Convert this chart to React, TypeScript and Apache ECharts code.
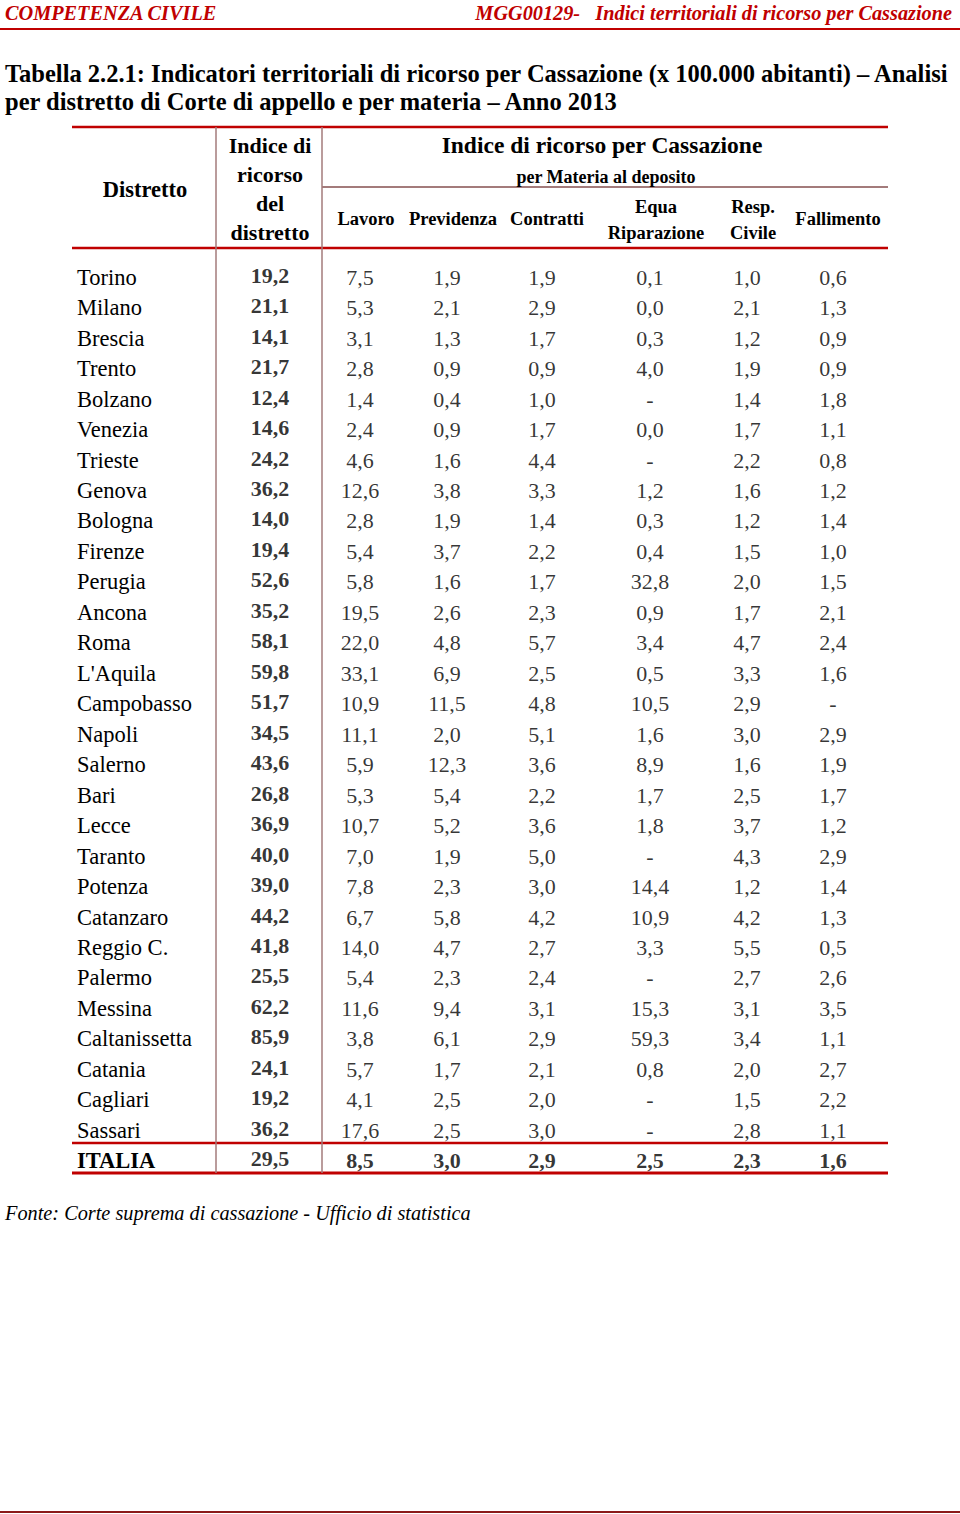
import React, { useEffect, useRef } from "react";
import * as echarts from "echarts";

const districts = ["Torino","Milano","Brescia","Trento","Bolzano","Venezia","Trieste","Genova","Bologna","Firenze","Perugia","Ancona","Roma","L'Aquila","Campobasso","Napoli","Salerno","Bari","Lecce","Taranto","Potenza","Catanzaro","Reggio C.","Palermo","Messina","Caltanissetta","Catania","Cagliari","Sassari","ITALIA"];
const indiceDistretto = [19.2,21.1,14.1,21.7,12.4,14.6,24.2,36.2,14.0,19.4,52.6,35.2,58.1,59.8,51.7,34.5,43.6,26.8,36.9,40.0,39.0,44.2,41.8,25.5,62.2,85.9,24.1,19.2,36.2,29.5];
const lavoro = [7.5,5.3,3.1,2.8,1.4,2.4,4.6,12.6,2.8,5.4,5.8,19.5,22.0,33.1,10.9,11.1,5.9,5.3,10.7,7.0,7.8,6.7,14.0,5.4,11.6,3.8,5.7,4.1,17.6,8.5];
const previdenza = [1.9,2.1,1.3,0.9,0.4,0.9,1.6,3.8,1.9,3.7,1.6,2.6,4.8,6.9,11.5,2.0,12.3,5.4,5.2,1.9,2.3,5.8,4.7,2.3,9.4,6.1,1.7,2.5,2.5,3.0];
const contratti = [1.9,2.9,1.7,0.9,1.0,1.7,4.4,3.3,1.4,2.2,1.7,2.3,5.7,2.5,4.8,5.1,3.6,2.2,3.6,5.0,3.0,4.2,2.7,2.4,3.1,2.9,2.1,2.0,3.0,2.9];
const equaRiparazione = [0.1,0.0,0.3,4.0,null,0.0,null,1.2,0.3,0.4,32.8,0.9,3.4,0.5,10.5,1.6,8.9,1.7,1.8,null,14.4,10.9,3.3,null,15.3,59.3,0.8,null,null,2.5];
const respCivile = [1.0,2.1,1.2,1.9,1.4,1.7,2.2,1.6,1.2,1.5,2.0,1.7,4.7,3.3,2.9,3.0,1.6,2.5,3.7,4.3,1.2,4.2,5.5,2.7,3.1,3.4,2.0,1.5,2.8,2.3];
const fallimento = [0.6,1.3,0.9,0.9,1.8,1.1,0.8,1.2,1.4,1.0,1.5,2.1,2.4,1.6,null,2.9,1.9,1.7,1.2,2.9,1.4,1.3,0.5,2.6,3.5,1.1,2.7,2.2,1.1,1.6];

const columns = [
  { name: "Indice del distretto", values: indiceDistretto, bold: true },
  { name: "Lavoro", values: lavoro, bold: false },
  { name: "Previdenza", values: previdenza, bold: false },
  { name: "Contratti", values: contratti, bold: false },
  { name: "Equa Riparazione", values: equaRiparazione, bold: false },
  { name: "Resp. Civile", values: respCivile, bold: false },
  { name: "Fallimento", values: fallimento, bold: false },
];
// layout: column centre positions (pixels on the hidden x axis)
const colCenters = [270, 360, 447, 542, 650, 747, 833];

const FONT = "'Liberation Serif', 'Times New Roman', serif";
const RED = "#c00000";
const GREY = "#a37b7b";

function fmt(v: number | null) {
  return v == null ? "-" : v.toFixed(1).replace(".", ",");
}

export default function App() {
  const ref = useRef<HTMLDivElement>(null);
  useEffect(() => {
    const chart = echarts.init(ref.current!, null, { renderer: "svg" });
    const t = (text: string, x: number, y: number, size: number, opts: any = {}) => ({
      type: "text",
      x, y,
      style: {
        text, fontSize: size, fontFamily: FONT,
        fontWeight: opts.weight || "normal", fontStyle: opts.style || "normal",
        fill: opts.fill || "#000", align: opts.align || "left", verticalAlign: "middle",
      },
      silent: true,
    });
    const hl = (x1: number, x2: number, y: number, color: string, w: number) => ({
      type: "line", shape: { x1, y1: y, x2, y2: y }, style: { stroke: color, lineWidth: w }, silent: true,
    });
    const vl = (x: number, y1: number, y2: number, color: string, w: number) => ({
      type: "line", shape: { x1: x, y1, x2: x, y2 }, style: { stroke: color, lineWidth: w }, silent: true,
    });
    const hb = 18.5;
    const graphic: any[] = [
      t("COMPETENZA CIVILE", 5, 13, 20.3, { weight: "bold", style: "italic", fill: RED }),
      t("MGG00129-   Indici territoriali di ricorso per Cassazione", 952, 13, 20.3, { weight: "bold", style: "italic", fill: RED, align: "right" }),
      hl(0, 960, 29, RED, 2),
      t("Tabella 2.2.1: Indicatori territoriali di ricorso per Cassazione (x 100.000 abitanti) – Analisi", 5, 73, 24.5, { weight: "bold" }),
      t("per distretto di Corte di appello e per materia – Anno 2013", 5, 101, 24.5, { weight: "bold" }),
      hl(72, 888, 127, RED, 2.5),
      hl(322, 888, 187, GREY, 2),
      hl(72, 888, 248, RED, 2.5),
      hl(72, 888, 1143, RED, 2.5),
      hl(72, 888, 1173, RED, 3),
      vl(216, 127, 1173, GREY, 1.5),
      vl(322, 127, 1173, GREY, 1.5),
      t("Distretto", 145, 189, 22.5, { weight: "bold", align: "center" }),
      t("Indice di", 270, 145, 22, { weight: "bold", align: "center" }),
      t("ricorso", 270, 174, 22, { weight: "bold", align: "center" }),
      t("del", 270, 203, 22, { weight: "bold", align: "center" }),
      t("distretto", 270, 232, 22, { weight: "bold", align: "center" }),
      t("Indice di ricorso per Cassazione", 602, 145, 23.5, { weight: "bold", align: "center" }),
      t("per Materia al deposito", 606, 177, 18, { weight: "bold", align: "center" }),
      t("Lavoro", 366, 219, hb, { weight: "bold", align: "center" }),
      t("Previdenza", 453, 219, hb, { weight: "bold", align: "center" }),
      t("Contratti", 547, 219, hb, { weight: "bold", align: "center" }),
      t("Equa", 656, 207, hb, { weight: "bold", align: "center" }),
      t("Riparazione", 656, 233, hb, { weight: "bold", align: "center" }),
      t("Resp.", 753, 207, hb, { weight: "bold", align: "center" }),
      t("Civile", 753, 233, hb, { weight: "bold", align: "center" }),
      t("Fallimento", 838, 219, hb, { weight: "bold", align: "center" }),
      t("Fonte: Corte suprema di cassazione - Ufficio di statistica", 5, 1213, 20.3, { style: "italic" }),
      hl(0, 960, 1512, "#8b1a1a", 2),
    ];

    const series = columns.map((col, c) => ({
      type: "scatter",
      name: col.name,
      symbolSize: 0,
      silent: true,
      data: col.values.map((v, i) => ({
        value: [colCenters[c], districts[i]],
        label: {
          formatter: fmt(v),
          fontWeight: col.bold || districts[i] === "ITALIA" ? "bold" : "normal",
          offset: col.bold ? [0, -2] : [0, 0],
        },
      })),
      label: {
        show: true, position: "inside", color: "#000", fontSize: 22, fontFamily: FONT,
      },
    }));

    chart.setOption({
      animation: false,
      grid: { left: 0, top: 262, width: 960, height: 914 },
      xAxis: { type: "value", min: 0, max: 960, show: false },
      yAxis: {
        type: "category", data: districts, inverse: true, position: "left", offset: -72,
        axisLine: { show: false }, axisTick: { show: false }, splitLine: { show: false },
        axisLabel: {
          align: "left", margin: -5, fontSize: 22.5, fontFamily: FONT, color: "#000",
          formatter: (v: string) => (v === "ITALIA" ? "{b|ITALIA}" : v),
          rich: { b: { fontWeight: "bold", fontSize: 22.5, fontFamily: FONT, color: "#000" } },
        },
      },
      series,
      graphic,
    });
    return () => chart.dispose();
  }, []);
  return <div ref={ref} style={{ position: "absolute", left: 0, top: 0, width: 960, height: 1514, background: "#fff" }} />;
}
